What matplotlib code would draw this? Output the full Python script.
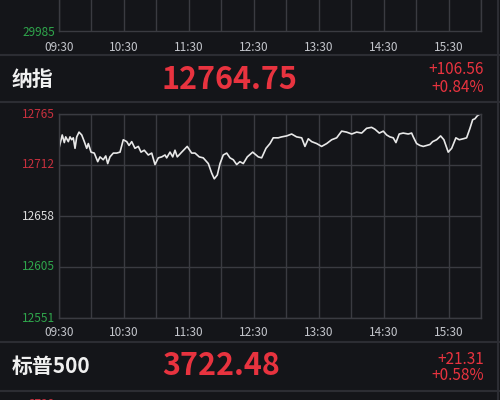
#!/usr/bin/env python3
"""Nasdaq intraday screenshot-style chart."""

import matplotlib
matplotlib.use("Agg")
import matplotlib.pyplot as plt

plt.rcParams["font.family"] = ["Noto Sans CJK SC", "DejaVu Sans"]

BG = "#141519"
GRID = "#3a3b41"
RED = "#e8333f"
LABEL_RED = "#c9303e"
GREEN = "#2fa64c"
WHITE = "#f0f0f0"
TICK = "#c4c6cc"

# minutes after 09:30 and index level
minutes = [0, 3.0, 4.9, 6.2, 8.6, 10.2, 11.7, 13.2, 14.8, 16.4, 18.5, 21.0,
           23.4, 25.6, 27.1, 29.6, 32.6, 35.8, 37.9, 40.9, 43.2, 45.0, 47.1,
           50.2, 53.3, 56.4, 59.4, 62.6, 64.7, 67.2, 70.2, 73.3, 75.8, 78.8,
           82.5, 85.7, 88.7, 91.8, 94.9, 98.0, 99.5, 102.6, 105.1, 107.2,
           109.3, 113.4, 118.5, 122.6, 125.7, 129.6, 133.3, 138.0, 141.1,
           143.5, 146.3, 148.8, 151.8, 155.0, 158.0, 161.1, 164.2, 167.2,
           170.3, 174.0, 179.0, 184.2, 187.3, 191.3, 195.0, 198.0, 202.6,
           205.8, 210.4, 215.0, 219.6, 224.3, 227.3, 230.4, 233.5, 238.1,
           242.7, 247.4, 252.0, 256.6, 261.2, 265.8, 270.5, 275.1, 279.7,
           284.3, 288.9, 292.0, 296.0, 299.7, 302.8, 305.8, 308.9, 311.4,
           314.4, 318.1, 322.7, 325.9, 327.4, 330.5, 333.6, 336.6, 339.8,
           342.8, 345.3, 349.0, 352.7, 355.7, 359.7, 362.9, 366.8, 369.9,
           373.6, 376.7, 379.8, 382.3, 384.4, 386.5, 389.0]
levels = [12729, 12743, 12735, 12741, 12736, 12741, 12738, 12740, 12729, 12741,
          12746, 12743, 12736, 12729, 12734, 12725, 12724, 12715, 12720, 12717,
          12721, 12713, 12720, 12724, 12724, 12725, 12738, 12736, 12732, 12736,
          12729, 12731, 12725, 12727, 12722, 12724, 12712, 12719, 12720, 12722,
          12719, 12725, 12720, 12727, 12720, 12725, 12731, 12724, 12724, 12720,
          12719, 12713, 12703, 12697, 12701, 12713, 12722, 12724, 12719, 12717,
          12712, 12715, 12713, 12720, 12725, 12720, 12719, 12729, 12734, 12740,
          12740, 12741, 12742, 12744, 12741, 12740, 12731, 12739, 12736, 12734,
          12731, 12734, 12738, 12740, 12747, 12746, 12744, 12746, 12745, 12750,
          12751, 12749, 12745, 12747, 12743, 12741, 12740, 12735, 12744, 12745,
          12744, 12745, 12741, 12734, 12732, 12731, 12732, 12733, 12736, 12738,
          12742, 12738, 12725, 12729, 12740, 12738, 12739, 12740, 12750, 12759,
          12760, 12763, 12765]

y_ticks = [12551, 12605, 12658, 12712, 12765]
y_tick_colors = [GREEN, GREEN, "#dcdcdc", LABEL_RED, LABEL_RED]
x_ticks = [0, 60, 120, 180, 240, 300, 360]
x_tick_labels = ["09:30", "10:30", "11:30", "12:30", "13:30", "14:30", "15:30"]

name = "纳指"
last = "12764.75"
change = "+106.56"
change_pct = "+0.84%"
next_name = "标普500"
next_last = "3722.48"
next_change = "+21.31"
next_change_pct = "+0.58%"
prev_low = "29985"

W, H = 500, 400
TICK_SIZE = 8.5


def box(px_left, px_top, px_right, px_bottom):
    return [px_left / W, 1 - px_bottom / H, (px_right - px_left) / W,
            (px_bottom - px_top) / H]


def style_grid(ax):
    ax.set_facecolor(BG)
    ax.set_xlim(0, 390)
    ax.set_xticks(range(0, 391, 30))
    ax.tick_params(length=0, labelbottom=False, labelleft=False)
    ax.grid(True, color=GRID, linewidth=1.0)
    for spine in ax.spines.values():
        spine.set_color(GRID)
        spine.set_linewidth(1.0)


fig = plt.figure(figsize=(5, 4), dpi=100, facecolor=BG)

# overlay in pixel coordinates for separators and header text
bg = fig.add_axes([0, 0, 1, 1], zorder=0)
bg.set_xlim(0, W)
bg.set_ylim(H, 0)
bg.axis("off")
for y in (55, 102, 342, 391):
    bg.plot([0, W], [y, y], color="#2c2d33", linewidth=1.5)
bg.plot([498, 498], [0, H], color="#2c2d33", linewidth=1.5)

# previous chart remnant at the top
top = fig.add_axes(box(59, -10, 481, 31), zorder=1)
style_grid(top)
top.set_ylim(0, 1)
top.set_yticks([])
top.spines["top"].set_visible(False)
for t, lab in zip(x_ticks, x_tick_labels):
    top.annotate(lab, (t, 0), xytext=(0, -7), textcoords="offset points",
                 ha="center", va="top", color=TICK, fontsize=TICK_SIZE)
top.annotate(prev_low, (0, 0), xytext=(-3, -1), textcoords="offset points",
             ha="right", va="center", color=GREEN, fontsize=TICK_SIZE)

# header
bg.text(12, 80, name, color=WHITE, fontsize=15, fontweight="bold", va="center")
bg.text(162, 80, last, color=RED, fontsize=22, fontweight="bold", va="center")
bg.text(484, 70, change, color=RED, fontsize=11, ha="right", va="center")
bg.text(484, 87, change_pct, color=RED, fontsize=11, ha="right", va="center")

# main chart
ax = fig.add_axes(box(59, 114, 481, 318), zorder=1)
style_grid(ax)
ax.set_ylim(y_ticks[0], y_ticks[-1])
ax.set_yticks(y_ticks)
ax.plot(minutes, levels, color="#e8e8e8", linewidth=1.2)
for v, c in zip(y_ticks, y_tick_colors):
    ax.annotate(str(v), (0, v), xytext=(-3, 0), textcoords="offset points",
                ha="right", va="center", color=c, fontsize=TICK_SIZE)
for t, lab in zip(x_ticks, x_tick_labels):
    ax.annotate(lab, (t, y_ticks[0]), xytext=(0, -6), textcoords="offset points",
                ha="center", va="top", color=TICK, fontsize=TICK_SIZE)

# next index header
bg.text(12, 366, next_name, color=WHITE, fontsize=15, fontweight="bold",
        va="center")
bg.text(162, 366, next_last, color=RED, fontsize=22, fontweight="bold",
        va="center")
bg.text(484, 359, next_change, color=RED, fontsize=11, ha="right", va="center")
bg.text(484, 375, next_change_pct, color=RED, fontsize=11, ha="right",
        va="center")
bg.text(55, 404, "3728", color=LABEL_RED, fontsize=TICK_SIZE, ha="right",
        va="center")

fig.savefig("out.png", dpi=100, facecolor=BG)
